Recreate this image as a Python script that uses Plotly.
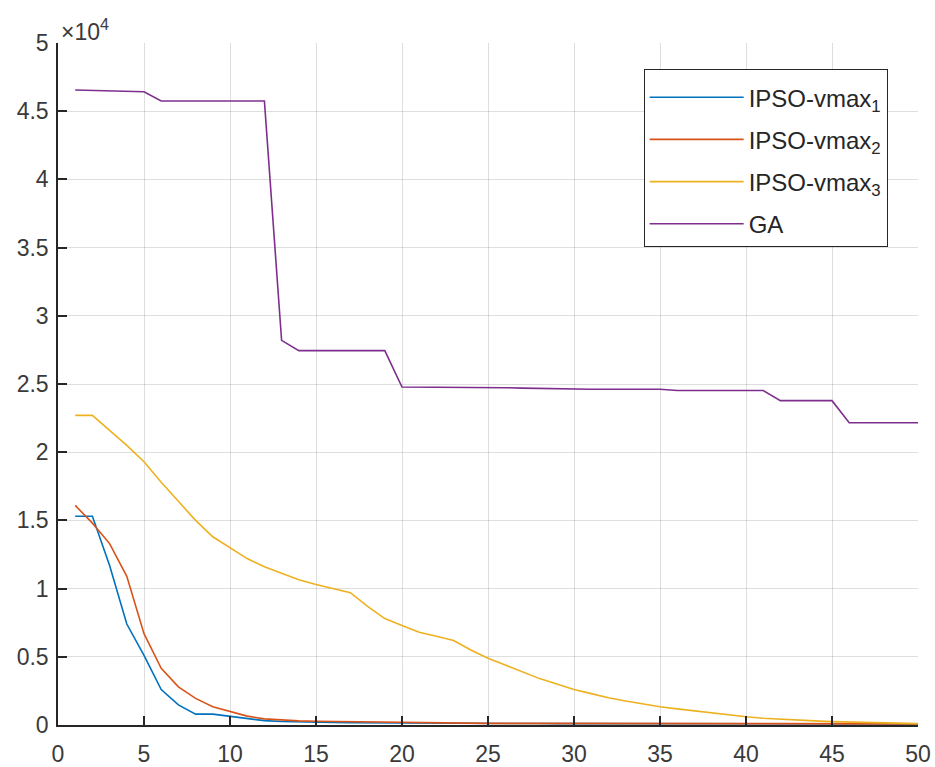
import plotly.graph_objects as go

# Iteration index
iterations = list(range(1, 51))

# Best fitness per iteration for each optimiser
ipso_vmax1 = [15300, 15300, 11700, 7400, 5100, 2600, 1470, 800, 800, 650,
              450, 320, 260, 220, 200, 180, 160, 150, 140, 130,
              125, 120, 118, 115, 112, 110, 108, 106, 104, 102,
              100, 98, 96, 95, 94, 93, 92, 91, 90, 89,
              88, 87, 86, 85, 84, 83, 82, 81, 80, 80]
ipso_vmax2 = [16100, 14800, 13300, 10900, 6700, 4150, 2800, 1950, 1340, 980,
              650, 450, 350, 300, 270, 250, 240, 230, 220, 210,
              180, 150, 135, 125, 120, 118, 116, 114, 112, 110,
              108, 106, 104, 102, 100, 99, 98, 97, 96, 95,
              94, 93, 92, 91, 90, 89, 88, 87, 86, 85]
ipso_vmax3 = [22700, 22700, 21600, 20500, 19300, 17800, 16400, 15000, 13800, 13000,
              12200, 11600, 11100, 10650, 10300, 10000, 9700, 8700, 7800, 7300,
              6800, 6500, 6200, 5500, 4900, 4400, 3900, 3400, 3000, 2600,
              2300, 2000, 1760, 1540, 1340, 1180, 1030, 880, 740, 600,
              500, 420, 360, 300, 250, 210, 170, 140, 120, 100]
ga = [46550, 46520, 46480, 46450, 46430, 45750, 45750, 45750, 45750, 45750,
      45750, 45750, 28200, 27450, 27450, 27450, 27450, 27450, 27450, 24780,
      24780, 24770, 24770, 24760, 24750, 24730, 24700, 24670, 24650, 24630,
      24620, 24620, 24620, 24620, 24620, 24520, 24520, 24520, 24520, 24520,
      24520, 23780, 23780, 23780, 23780, 22160, 22160, 22160, 22160, 22160]

series_names = ["IPSO-vmax<sub>1</sub>", "IPSO-vmax<sub>2</sub>",
                "IPSO-vmax<sub>3</sub>", "GA"]
series_colors = ["#0072BD", "#D95319", "#EDB120", "#7E2F8E"]

y_tick_vals = [0, 5000, 10000, 15000, 20000, 25000, 30000, 35000, 40000, 45000, 50000]
y_tick_text = ["0", "0.5", "1", "1.5", "2", "2.5", "3", "3.5", "4", "4.5", "5"]
x_tick_vals = [0, 5, 10, 15, 20, 25, 30, 35, 40, 45, 50]

fig = go.Figure()
for i, (name, color, values) in enumerate(
        zip(series_names, series_colors, [ipso_vmax1, ipso_vmax2, ipso_vmax3, ga])):
    fig.add_trace(go.Scatter(
        x=iterations, y=values, mode="lines", name=name,
        legendgroup=f"g{i}",
        line=dict(color=color, width=1.6),
    ))

font_family = "Liberation Sans, Arial, sans-serif"
axis_color = "#262626"

fig.update_layout(
    width=935, height=767,
    margin=dict(l=58, r=17, t=43, b=42, autoexpand=False),
    paper_bgcolor="white", plot_bgcolor="white",
    font=dict(family=font_family, size=23, color="#3a3a3a"),
    showlegend=True,
    legend=dict(
        x=0.681, y=0.962, xanchor="left", yanchor="top",
        bgcolor="white", bordercolor=axis_color, borderwidth=1,
        font=dict(size=24, color="#262626"),
        title=dict(text=" ", font=dict(size=4)),
        itemwidth=94, tracegroupgap=8,
    ),
    xaxis=dict(
        range=[0, 50], tickvals=x_tick_vals, automargin=False,
        showgrid=True, gridcolor="rgba(0,0,0,0.13)", gridwidth=1,
        zeroline=False, showline=True, linecolor=axis_color, linewidth=1.5,
        ticks="inside", ticklen=9, tickcolor=axis_color, tickwidth=1.5,
        ticklabelstandoff=8,
    ),
    yaxis=dict(
        range=[0, 50000], tickvals=y_tick_vals, ticktext=y_tick_text, automargin=False,
        showgrid=True, gridcolor="rgba(0,0,0,0.13)", gridwidth=1,
        zeroline=False, showline=True, linecolor=axis_color, linewidth=1.5,
        ticks="inside", ticklen=9, tickcolor=axis_color, tickwidth=1.5,
        ticklabelstandoff=3,
    ),
    annotations=[dict(
        text="×10<sup>4</sup>", xref="paper", yref="paper",
        x=0.0, y=1.0, xanchor="left", yanchor="bottom", xshift=1, yshift=-4,
        showarrow=False, font=dict(family=font_family, size=23, color="#3a3a3a"),
    )],
)

fig.write_html("out.html")
